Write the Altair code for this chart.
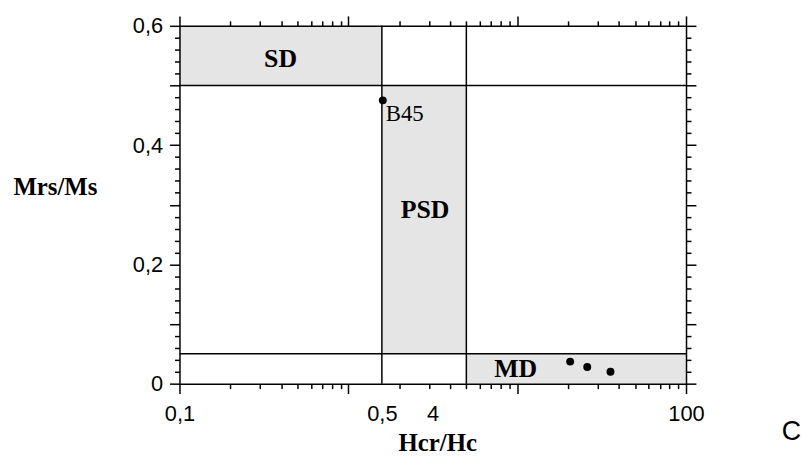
import altair as alt
import pandas as pd

# ---- data ----
region_names = ["SD", "PSD", "MD"]
region_x1 = [0.1, 1.58, 5.0]
region_x2 = [1.58, 5.0, 100.0]
region_y1 = [0.5, 0.05, 0.0]
region_y2 = [0.6, 0.5, 0.05]

vline_x = [1.58, 5.0]
hline_y = [0.5, 0.05]

label_text = ["SD", "PSD", "MD"]
label_x = [0.397, 2.85, 9.8]
label_y = [0.545, 0.291, 0.024]

sample_names = ["B45", "", "", ""]
sample_hcr_hc = [1.6, 20.6, 26.0, 35.7]
sample_mrs_ms = [0.475, 0.037, 0.028, 0.020]

x_major_ticks = [0.1, 1, 10, 100]
x_minor_ticks = [0.2, 0.3, 0.4, 0.5, 0.6, 0.7, 0.8, 0.9,
                 2, 3, 4, 5, 6, 7, 8, 9,
                 20, 30, 40, 50, 60, 70, 80, 90]
x_label_values = [0.1, 1.58, 3.15, 100]
x_label_texts = ["0,1", "0,5", "4", "100"]

y_major_ticks = [0.0, 0.1, 0.2, 0.3, 0.4, 0.5, 0.6]
y_minor_ticks = [0.02, 0.04, 0.06, 0.08, 0.12, 0.14, 0.16, 0.18,
                 0.22, 0.24, 0.26, 0.28, 0.32, 0.34, 0.36, 0.38,
                 0.42, 0.44, 0.46, 0.48, 0.52, 0.54, 0.56, 0.58]
y_label_values = [0.0, 0.2, 0.4, 0.6]
y_label_texts = ["0", "0,2", "0,4", "0,6"]

regions = pd.DataFrame({"name": region_names, "x1": region_x1, "x2": region_x2,
                        "y1": region_y1, "y2": region_y2})
vlines = pd.DataFrame({"x": vline_x})
hlines = pd.DataFrame({"y": hline_y})
labels = pd.DataFrame({"t": label_text, "x": label_x, "y": label_y})
samples = pd.DataFrame({"name": sample_names, "x": sample_hcr_hc, "y": sample_mrs_ms})


def label_expr(values, texts):
    e = ""
    for v, t in zip(values, texts):
        e += f"abs(datum.value - {v}) < 1e-6 ? '{t}' : "
    return e + "''"


SANS = "Liberation Sans"
SERIF = "Liberation Serif"

xscale = alt.Scale(type="log", domain=[0.1, 100], nice=False)
yscale = alt.Scale(domain=[0, 0.6], nice=False, zero=True)

common = dict(grid=False, domainColor="black", domainWidth=1.5, tickColor="black",
              tickWidth=1.5, labelColor="black", zindex=2)


def tick_axis(orient, values, size, domain=False):
    return alt.Axis(orient=orient, values=values, tickSize=size, domain=domain,
                    labels=False, title=None, **common)


x_bottom_major = tick_axis("bottom", x_major_ticks, 10, domain=True)
x_bottom_minor = tick_axis("bottom", x_minor_ticks, 5)
x_bottom_labels = alt.Axis(orient="bottom", values=x_label_values, ticks=False, tickSize=0,
                           domain=False, labels=True,
                           labelExpr=label_expr(x_label_values, x_label_texts),
                           labelFont=SANS, labelFontSize=22, labelPadding=20,
                           labelColor="black",
                           labelFlush=False, labelOverlap=False,
                           title="Hcr/Hc", titleFont=SERIF, titleFontWeight="bold",
                           titleFontSize=25, titleColor="black", titleBaseline="middle",
                           titleX=260, titleY=59, grid=False, zindex=2)
x_top_major = tick_axis("top", x_major_ticks, 10, domain=True)
x_top_minor = tick_axis("top", x_minor_ticks, 5)

y_left_major = alt.Axis(orient="left", values=y_major_ticks, tickSize=10, domain=True,
                        labels=True, labelExpr=label_expr(y_label_values, y_label_texts),
                        labelFont=SANS, labelFontSize=22, labelPadding=7,
                        labelFlush=False, labelOverlap=False,
                        title="Mrs/Ms", titleFont=SERIF, titleFontWeight="bold",
                        titleFontSize=25, titleColor="black", titleAngle=0,
                        titleAlign="left", titleBaseline="middle", titleX=-168, titleY=162,
                        **common)
y_left_minor = tick_axis("left", y_minor_ticks, 5)
y_right_major = tick_axis("right", y_major_ticks, 10, domain=True)
y_right_minor = tick_axis("right", y_minor_ticks, 5)

rects = alt.Chart(regions).mark_rect(color="#e5e5e5").encode(
    x=alt.X("x1:Q", scale=xscale, axis=x_bottom_major),
    x2="x2:Q",
    y=alt.Y("y1:Q", scale=yscale, axis=y_left_major),
    y2="y2:Q",
)

vrules = alt.Chart(vlines).mark_rule(color="black", strokeWidth=1.5).encode(
    x=alt.X("x:Q", scale=xscale, axis=x_bottom_minor),
)

hrules = alt.Chart(hlines).mark_rule(color="black", strokeWidth=1.5).encode(
    y=alt.Y("y:Q", scale=yscale, axis=y_left_minor),
)

points = alt.Chart(samples).mark_point(filled=True, color="black", size=64, opacity=1).encode(
    x=alt.X("x:Q", scale=xscale, axis=x_top_major),
    y=alt.Y("y:Q", scale=yscale, axis=y_right_major),
)

region_text = alt.Chart(labels).mark_text(font=SERIF, fontWeight="bold", fontSize=26,
                                          color="black", baseline="middle").encode(
    x=alt.X("x:Q", scale=xscale, axis=x_top_minor),
    y=alt.Y("y:Q", scale=yscale, axis=y_right_minor),
    text="t:N",
)

sample_text = alt.Chart(samples).mark_text(font=SERIF, fontSize=23, color="black",
                                           align="left", baseline="middle", dx=3, dy=14).encode(
    x=alt.X("x:Q", scale=xscale, axis=x_bottom_labels),
    y=alt.Y("y:Q", scale=yscale, axis=None),
    text="name:N",
)

chart = alt.layer(rects, vrules, hrules, points, region_text, sample_text).resolve_axis(
    x="independent", y="independent"
).properties(
    width=511, height=361,
    padding={"left": 5, "top": 5, "right": 0, "bottom": 0},
    title=alt.Title("C", orient="bottom", anchor="end", frame="group", font=SANS,
                    fontSize=27, fontWeight="normal", color="black", dx=116, dy=-40),
).configure_view(stroke=None)

chart.save("out.html", embed_options={"renderer": "svg", "actions": False})
